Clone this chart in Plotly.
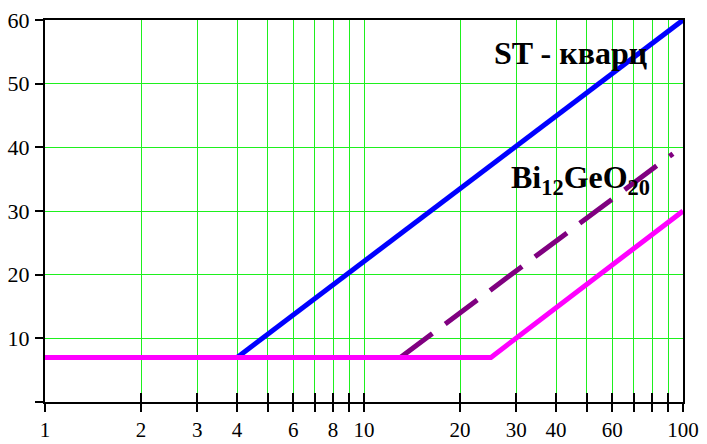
import plotly.graph_objects as go

# Data
st_x = [4, 100]
st_y = [7, 60]
bgo_x = [13, 93]
bgo_y = [7, 39]
mag_x = [1, 25, 100]
mag_y = [7, 7, 30]

x_major = [1, 2, 3, 4, 6, 8, 10, 20, 30, 40, 60, 100]
x_major_text = ["1", "2", "3", "4", "6", "8", "10", "20", "30", "40", "60", "100"]
x_minor = [5, 7, 9, 50, 70, 80, 90]
x_all = sorted(x_major + x_minor)
y_major = [10, 20, 30, 40, 50, 60]
y_minor = [0]

FONT = "Liberation Serif, Times New Roman, serif"
GRID = "#1ef01e"

fig = go.Figure()
fig.add_trace(go.Scatter(x=st_x, y=st_y, mode="lines",
                         line=dict(color="#0000ff", width=5), showlegend=False, hoverinfo="skip"))
fig.add_trace(go.Scatter(x=bgo_x, y=bgo_y, mode="lines",
                         line=dict(color="#800080", width=5, dash="40px,16px"), showlegend=False, hoverinfo="skip"))
fig.add_trace(go.Scatter(x=mag_x, y=mag_y, mode="lines",
                         line=dict(color="#ff00ff", width=5), showlegend=False, hoverinfo="skip"))
# helper trace for the inner tick axis
fig.add_trace(go.Scatter(x=[1, 100], y=[None, None], xaxis="x2", mode="lines",
                         showlegend=False, hoverinfo="skip"))

fig.update_layout(
    width=707, height=444,
    margin=dict(l=45, r=24, t=20, b=42),
    paper_bgcolor="white", plot_bgcolor="white",
    font=dict(family=FONT, size=22, color="black"),
    xaxis=dict(
        type="log", range=[0, 2], automargin=False,
        tickmode="array", tickvals=x_major, ticktext=x_major_text,
        showgrid=True, gridcolor=GRID, gridwidth=1,
        ticks="outside", ticklen=8, tickwidth=2, tickcolor="black",
        minor=dict(tickmode="array", tickvals=x_minor, ticks="outside", ticklen=8,
                   tickwidth=2, tickcolor="black", showgrid=True, gridcolor=GRID, gridwidth=1),
        showline=True, linecolor="black", linewidth=2, mirror=True,
        ticklabelstandoff=0,
        tickfont=dict(family=FONT, size=21, color="black"),
        zeroline=False,
    ),
    xaxis2=dict(
        type="log", range=[0, 2], overlaying="x", anchor="y", side="bottom", automargin=False,
        tickmode="array", tickvals=x_all, showticklabels=False,
        showgrid=False, showline=False, zeroline=False,
        ticks="inside", ticklen=9, tickwidth=2, tickcolor="black",
    ),
    yaxis=dict(
        range=[0, 60], automargin=False,
        tickmode="array", tickvals=y_major,
        showgrid=True, gridcolor=GRID, gridwidth=1,
        ticks="outside", ticklen=8, tickwidth=2, tickcolor="black",
        minor=dict(tickmode="array", tickvals=y_minor, ticks="outside", ticklen=8,
                   tickwidth=2, tickcolor="black", showgrid=False),
        showline=True, linecolor="black", linewidth=2, mirror=True,
        ticklabelstandoff=1,
        tickfont=dict(family=FONT, size=22, color="black"),
        zeroline=False,
    ),
    annotations=[
        dict(text="<b>ST - кварц</b>", xref="paper", yref="y", x=0.824, y=54.8,
             showarrow=False, xanchor="center", yanchor="middle",
             font=dict(family=FONT, size=32, color="black")),
        dict(text="<b>Bi<sub>12</sub>GeO<sub>20</sub></b>", xref="paper", yref="y", x=0.839, y=34.9,
             showarrow=False, xanchor="center", yanchor="middle",
             font=dict(family=FONT, size=32, color="black")),
    ],
)

fig.write_html("out.html")
